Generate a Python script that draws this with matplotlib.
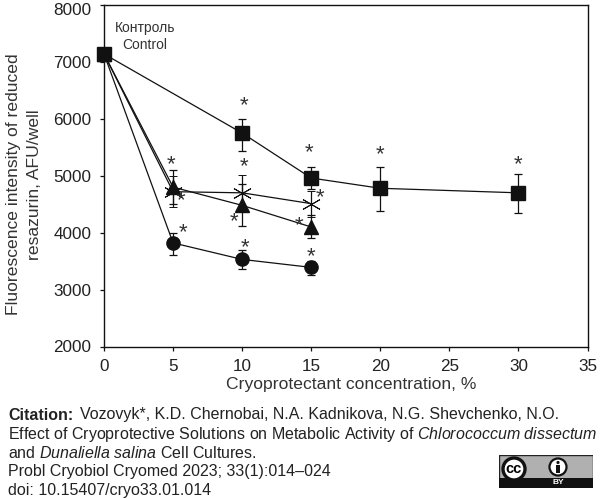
import numpy as np
import matplotlib
matplotlib.use("Agg")
import matplotlib.pyplot as plt
from matplotlib.patches import Rectangle, Circle
from matplotlib.transforms import ScaledTranslation

plt.rcParams['font.family'] = ['Liberation Sans', 'DejaVu Sans']
plt.rcParams['mathtext.fontset'] = 'custom'
plt.rcParams['mathtext.rm'] = 'Liberation Sans'
plt.rcParams['mathtext.it'] = 'Liberation Sans:italic'
plt.rcParams['mathtext.bf'] = 'Liberation Sans:bold'

# ------------------------------------------------------------
# Data
# ------------------------------------------------------------
square_x = [0, 10, 15, 20, 30]
square_y = [7140, 5750, 4960, 4780, 4700]
square_hi = [7240, 6000, 5150, 5150, 5030]
square_lo = [7040, 5440, 4770, 4380, 4340]

triangle_x = [0, 5, 10, 15]
triangle_y = [7140, 4800, 4480, 4100]
triangle_hi = [7240, 5100, 4850, 4310]
triangle_lo = [7040, 4500, 4110, 3900]

cross_x = [0, 5, 10, 15]
cross_y = [7140, 4720, 4700, 4510]
cross_hi = [7240, 5000, 5010, 4740]
cross_lo = [7040, 4450, 4390, 4280]

circle_x = [0, 5, 10, 15]
circle_y = [7140, 3820, 3530, 3390]
circle_hi = [7240, 4000, 3700, 3500]
circle_lo = [7040, 3600, 3360, 3260]

# significance marks, placed by hand next to each point
star_x = [4.83, 5.55, 5.74, 10.14, 10.14, 9.41, 10.2, 14.87, 15.64, 14.14, 14.95, 20.0, 30.0]
star_y = [5265, 4632, 4065, 6302, 5230, 4270, 3813, 5471, 4692, 4193, 3655, 5440, 5265]

x_ticks = [0, 5, 10, 15, 20, 25, 30, 35]
y_ticks = [2000, 3000, 4000, 5000, 6000, 7000, 8000]

citation_lines = [
    r"Effect of Cryoprotective Solutions on Metabolic Activity of $\mathit{Chlorococcum\ dissectum}$",
    r"and $\mathit{Dunaliella\ salina}$ Cell Cultures.",
    "Probl Cryobiol Cryomed 2023; 33(1):014–024",
    "doi: 10.15407/cryo33.01.014",
]

W, H = 600, 499
fig = plt.figure(figsize=(W / 100, H / 100), dpi=100)
ax = fig.add_axes([104 / W, 1 - 346.5 / H, (587.5 - 104) / W, (346.5 - 5) / H])


def draw_series(x, y, hi, lo, marker, size, **kw):
    y = np.array(y)
    err = [y - np.array(lo), np.array(hi) - y]
    ax.errorbar(x, y, yerr=err, color='#111111', lw=0.9, elinewidth=0.9,
                capsize=3, capthick=0.9, marker=marker, ms=size, clip_on=False, **kw)


draw_series(circle_x, circle_y, circle_hi, circle_lo, 'o', 9.5)
# no cross on the shared control point, the square covers it
draw_series(cross_x, cross_y, cross_hi, cross_lo, (6, 2, 0), 14, mew=0.7, markevery=[1, 2, 3])
draw_series(triangle_x, triangle_y, triangle_hi, triangle_lo, '^', 10)
draw_series(square_x, square_y, square_hi, square_lo, 's', 9.5)

for sx, sy in zip(star_x, star_y):
    ax.annotate("*", (sx, sy), xytext=(0, -3), textcoords='offset points', fontsize=16,
                color='#333333', ha='center', va='center')

ax.text(2.97, 7448, "Контроль\nControl", fontsize=10, color='#333333', ha='center',
        va='center', linespacing=1.25)

ax.set_xlim(0, 35)
ax.set_ylim(2000, 8000)
ax.set_xticks(x_ticks)
ax.set_yticks(y_ticks)
ax.tick_params(labelsize=12.3, length=3, width=0.9, color='#111111', labelcolor='#222222', pad=6)
for side in ax.spines.values():
    side.set_linewidth(1.0)
    side.set_color('#111111')

# the top tick label sits a little lower than its tick
top_label = ax.get_yticklabels()[-1]
top_label.set_transform(top_label.get_transform() + ScaledTranslation(0, -4 / 100, fig.dpi_scale_trans))

ax.set_xlabel("Cryoprotectant concentration, %", fontsize=12.6, color='#333333', va='center')
ax.xaxis.set_label_coords((351 - 104) / (587.5 - 104), -(385 - 346.5) / 341.5)
fig.text(13.5 / W, 1 - 184 / H, "Fluorescence intensity of reduced", rotation=90, fontsize=12.6,
         color='#333333', ha='center', va='center')
fig.text(35 / W, 1 - 185 / H, "resazurin, AFU/well", rotation=90, fontsize=12.6,
         color='#333333', ha='center', va='center')

# citation block under the plot
fig.text(8 / W, 1 - 415 / H, "Citation:", fontsize=11.5, fontweight='bold', color='#222222', va='center')
fig.text(79.5 / W, 1 - 415 / H, "Vozovyk*, K.D. Chernobai, N.A. Kadnikova, N.G. Shevchenko, N.O.",
         fontsize=11.5, color='#222222', va='center')
for i, line in enumerate(citation_lines):
    fig.text(8 / W, 1 - (434 + i * 18.7) / H, line, fontsize=11.5, color='#222222', va='center')

# CC BY badge
badge = fig.add_axes([499 / W, 1 - 488 / H, 94 / W, 33 / H])
badge.set_xlim(0, 94)
badge.set_ylim(33, 0)
badge.axis('off')
badge.add_patch(Rectangle((0, 0), 94, 33, fc='#b0b0b0', ec='#222222', lw=1))
badge.add_patch(Rectangle((0, 23), 94, 10, fc='#111111', ec='#111111', lw=0))
badge.add_patch(Circle((15, 14), 11, fc='white', ec='#111111', lw=2.4, zorder=3))
badge.text(15, 14, "cc", fontsize=10.5, fontweight='bold', ha='center', va='center', zorder=4)
badge.add_patch(Circle((59, 12), 8.5, fc='white', ec='#111111', lw=1.6, zorder=3))
badge.add_patch(Circle((59, 7.5), 1.6, fc='#111111', ec='none', zorder=4))
badge.add_patch(Rectangle((56.8, 10), 4.4, 7.5, fc='#111111', ec='none', zorder=4))
badge.text(59, 28, "BY", fontsize=6, fontweight='bold', color='white', ha='center', va='center', zorder=4)

fig.savefig("out.png", dpi=100)
